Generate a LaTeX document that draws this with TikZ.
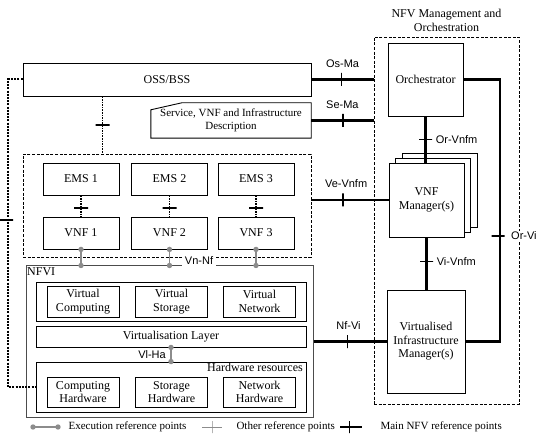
\documentclass[tikz,border=0pt]{standalone}
\usepackage{fontspec}
\setmainfont{Liberation Serif}
\newfontfamily\reffont{Liberation Sans}
\usetikzlibrary{positioning,calc}

\NewDocumentCommand{\emsvnf}{mm}{%
\node[box, minimum width=76pt, minimum height=32pt] (ems#1) at (#2,179) {EMS #1};
\node[box, minimum width=76pt, minimum height=32pt] (vnf#1) at (#2,233) {VNF #1};
\draw[otherref] (ems#1.south) -- (ems#1.south |- vnf#1.north) node[pos=0.58, othertick, sloped] {};
}
\NewDocumentCommand{\execlink}{mm}{%
\draw[execref] (#1) -- (#2);
\fill[execdot] (#1) circle[radius=2.7pt] (#2) circle[radius=2.7pt];
}

\begin{document}
\begin{tikzpicture}[x=1pt, y=-1pt,
    box/.style={draw, line width=0.9pt, fill=white, align=center, inner sep=1pt,
      font=\fontsize{12}{13.5}\selectfont},
    dashbox/.style={draw, dash pattern=on 3pt off 1.6pt, line width=0.8pt},
    mainref/.style={line width=2.6pt},
    otherref/.style={line width=1.6pt, dash pattern=on 1.6pt off 1pt},
    execref/.style={draw=black!45, line width=1.8pt},
    execdot/.style={fill=black!45},
    tickmark/.style={draw, solid, inner sep=0pt, minimum width=0pt, minimum height=13pt, line width=1.1pt},
    othertick/.style={tickmark, line width=1.8pt, minimum height=14pt},
    reflabel/.style={font=\reffont\fontsize{11}{12}\selectfont, inner sep=1pt},
  ]
  \useasboundingbox (0,0) rectangle (543,443);

  % MANO frame and title.
  \node[dashbox, minimum width=145pt, minimum height=367pt] (mano) at (446.5,220.5) {};
  \node[above=1pt of mano.north, align=center, font=\fontsize{12}{14}\selectfont] (manotitle) {NFV Management and\\Orchestration};

  \node[box, minimum width=288pt, minimum height=33pt] (oss) at (167,79.5) {OSS/BSS};
  \node[box, minimum width=75pt, minimum height=73pt] (orch) at (425.5,79.5) {Orchestrator};

  % Description box with the cut corner.
  \node[minimum width=160pt, minimum height=35pt, align=center, inner sep=0pt,
    font=\fontsize{11}{13}\selectfont] (desc) at (231,120.5) {Service, VNF and Infrastructure\\Description};
  \draw[line width=0.9pt] (desc.south west) -- ([yshift=-7pt]desc.north west)
    -- ([xshift=31pt]desc.north west) -- (desc.north east) -- (desc.south east) -- cycle;

  % VNF manager stack.
  \foreach \s in {2,1} {
    \begin{scope}[shift={(6.5*\s,-5*\s)}]
      \node[box, minimum width=75pt, minimum height=74pt] at (426.5,200) {};
    \end{scope}
  }
  \node[box, minimum width=75pt, minimum height=74pt] (vnfm) at (426.5,200) {VNF\\Manager(s)};
  \node[box, minimum width=78pt, minimum height=103pt] (vim) at (426,341.5) {Virtualised\\Infrastructure\\Manager(s)};

  % EMS and VNF block.
  \node[dashbox, minimum width=288pt, minimum height=103pt] (emsvnf) at (167,205.5) {};
  \emsvnf{1}{81}
  \emsvnf{2}{169.5}
  \emsvnf{3}{256}

  % NFVI.
  \node[draw=black!70, line width=1pt, minimum width=287pt, minimum height=151pt] (nfvi) at (169.5,341.5) {};
  \node[anchor=north west, inner sep=1.5pt, font=\fontsize{12}{13}\selectfont] at (nfvi.north west) {NFVI};
  \node[box, minimum width=270pt, minimum height=39pt] (virt) at (171,301.5) {};
  \node[box, minimum width=72pt, minimum height=31pt] (vcomp) at (83,301.5) {Virtual\\Computing};
  \node[box, minimum width=72pt, minimum height=31pt] (vstor) at (171.5,301.5) {Virtual\\Storage};
  \node[box, minimum width=72pt, minimum height=31pt] (vnet) at (259.5,301.5) {Virtual\\Network};
  \node[box, minimum width=270pt, minimum height=21pt] (vlayer) at (171,336.5) {Virtualisation Layer};
  \node[box, minimum width=270pt, minimum height=50pt] (hwres) at (171,387) {};
  \node[anchor=north east, inner sep=1.5pt, font=\fontsize{12}{13}\selectfont] at ([xshift=-2pt]hwres.north east) {Hardware resources};
  \node[box, minimum width=72pt, minimum height=30pt] (hcomp) at (83,392) {Computing\\Hardware};
  \node[box, minimum width=72pt, minimum height=30pt] (hstor) at (171.5,392) {Storage\\Hardware};
  \node[box, minimum width=72pt, minimum height=30pt] (hnet) at (259.5,392) {Network\\Hardware};

  % Main reference points.
  \draw[mainref] (oss.east) -- (oss.east -| mano.west)
    node[pos=0.48, tickmark, sloped] {} node[pos=0.5, above=10pt, reflabel] {Os-Ma};
  \draw[mainref] (desc.east) -- (desc.east -| mano.west)
    node[pos=0.51, tickmark, sloped] {} node[pos=0.5, above=10pt, reflabel] {Se-Ma};
  \draw[mainref] (emsvnf.east |- vnfm.west) -- (vnfm.west)
    node[pos=0.41, tickmark, sloped] {} node[pos=0.45, above=10pt, reflabel] {Ve-Vnfm};
  \draw[mainref] (nfvi.east |- vim.west) -- (vim.west)
    node[pos=0.46, tickmark, sloped] {} node[pos=0.48, above=10pt, reflabel] {Nf-Vi};
  \draw[mainref] (orch.south) -- (orch.south |- vnfm.north)
    node[pos=0.5, tickmark, sloped] {} node[pos=0.5, right=8pt, reflabel] {Or-Vnfm};
  \draw[mainref] (vnfm.south) -- (vnfm.south |- vim.north)
    node[pos=0.47, tickmark, sloped] {} node[pos=0.47, right=8pt, reflabel] {Vi-Vnfm};
  \coordinate (orvi) at (500,236);
  \draw[mainref] (orch.east) -| (orvi) |- (vim.east);
  \node[tickmark, rotate=90] at ([xshift=-2pt]orvi) {};
  \node[reflabel, right=10pt of orvi, fill=white] (orvilabel) {Or-Vi};

  % Other reference points.
  \draw[otherref] ([xshift=80pt]oss.south west) -- ([xshift=80pt]oss.south west |- emsvnf.north)
    node[pos=0.5, othertick, sloped] {};
  \coordinate (ossleft) at (8,220);
  \draw[line width=2pt, dash pattern=on 2pt off 1.2pt] (oss.west) -| (ossleft) |- (hwres.west);
  \node[othertick, rotate=90] at ([xshift=-2pt]ossleft) {};

  % Execution reference points.
  \foreach \i in {1,2,3} {
    \execlink{vnf\i.south}{vnf\i.south |- nfvi.north}
  }
  \node[reflabel, fill=white, inner sep=3pt] (vnnf) at (199,261) {Vn-Nf};
  \execlink{vlayer.south}{vlayer.south |- hwres.north}
  \node[reflabel, left=4pt] (vlha) at ($(vlayer.south)!0.5!(hwres.north)$) {Vl-Ha};

  % Legend.
  \node[anchor=west, font=\fontsize{11}{12}\selectfont] (legexec) at (65,427) {Execution reference points};
  \node[anchor=west, font=\fontsize{11}{12}\selectfont] (legother) at (233,427) {Other reference points};
  \node[anchor=west, font=\fontsize{11}{12}\selectfont] (legmain) at (377,427) {Main NFV reference points};
  \coordinate (exA) at ([xshift=-32pt]legexec.west);
  \coordinate (exB) at ([xshift=-7pt]legexec.west);
  \execlink{exA}{exB}
  \draw[line width=0.8pt, draw=black!45] ([xshift=-31pt]legother.west) -- ([xshift=-11pt]legother.west)
    node[pos=0.5, tickmark, sloped, draw=black!45, line width=0.8pt, minimum height=12pt] {};
  \draw[mainref] ([xshift=-37pt]legmain.west) -- ([xshift=-15pt]legmain.west)
    node[pos=0.45, tickmark, sloped, minimum height=12pt] {};
\end{tikzpicture}
\end{document}
